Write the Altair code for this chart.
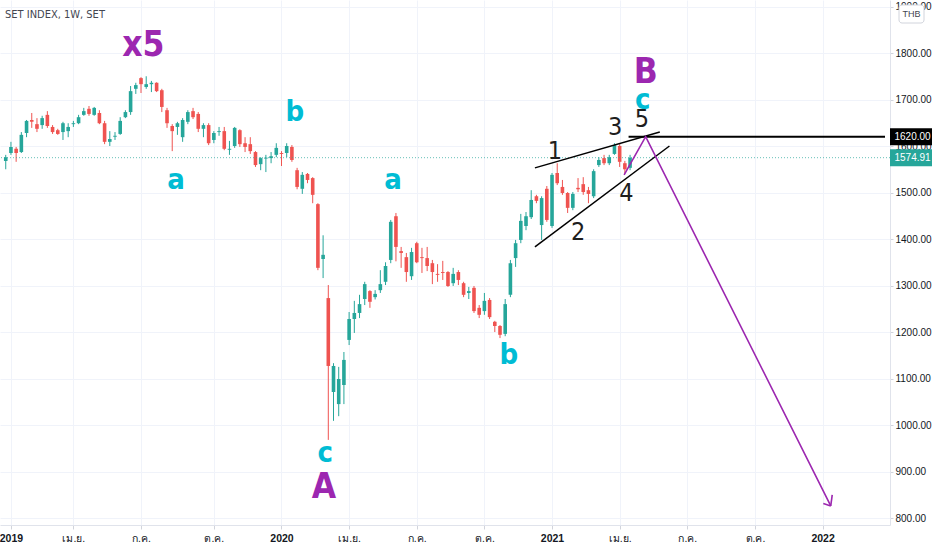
import altair as alt
import pandas as pd

# ---------------- data ----------------
first_week = "2018-12-31"
opens = [1568,1585,1594,1587,1628,1656,1647,1645,1667,1641,1634,1630,1632,1647,1649,1667,1680,1667,1671,1649,
         1609,1620,1626,1662,1673,1723,1746,1727,1733,1736,1720,1677,1643,1641,1619,1652,1675,1669,1637,1645,
         1613,1630,1632,1592,1600,1634,1606,1604,1587,1561,1573,1574,1581,1585,1585,1598,1548,1508,1540,1531,
         1475,1357,1273,1071,1045,1086,1183,1228,1241,1271,1288,1275,1290,1308,1355,1449,1374,1361,1320,1391,
         1361,1359,1348,1325,1329,1329,1305,1329,1305,1284,1295,1252,1245,1269,1222,1213,1196,1280,1359,1398,
         1428,1447,1492,1430,1508,1428,1542,1512,1499,1467,1510,1518,1505,1492,1559,1574,1563,1583,1600,1563,
         1553]
highs = [1581,1609,1598,1630,1656,1671,1660,1665,1675,1645,1637,1652,1649,1654,1667,1682,1686,1684,1677,1654,
         1632,1630,1662,1677,1729,1736,1748,1750,1740,1737,1723,1682,1647,1652,1660,1677,1682,1673,1649,1649,
         1632,1641,1641,1611,1641,1636,1619,1619,1589,1576,1581,1587,1606,1589,1606,1602,1553,1544,1542,1533,
         1477,1408,1301,1133,1125,1157,1243,1267,1280,1308,1290,1290,1333,1350,1441,1456,1383,1370,1381,1394,
         1381,1383,1355,1346,1353,1331,1338,1333,1308,1297,1299,1258,1284,1273,1224,1215,1271,1355,1398,1454,
         1458,1505,1495,1492,1514,1542,1563,1527,1501,1501,1531,1533,1512,1550,1576,1581,1581,1606,1604,1568,
         1581]
lows = [1550,1581,1566,1585,1619,1639,1630,1637,1639,1626,1624,1613,1619,1641,1647,1665,1665,1665,1647,1604,
        1600,1613,1624,1660,1667,1712,1714,1723,1716,1716,1673,1639,1589,1624,1609,1647,1658,1630,1619,1602,
        1606,1622,1591,1581,1596,1598,1587,1583,1555,1548,1544,1563,1576,1557,1576,1566,1507,1497,1520,1477,
        1333,1316,968,1009,1019,1045,1172,1198,1230,1258,1252,1270,1284,1301,1348,1352,1338,1308,1312,1348,
        1327,1331,1303,1308,1312,1297,1299,1301,1275,1271,1241,1230,1237,1228,1200,1187,1191,1275,1340,1391,
        1419,1443,1477,1398,1437,1424,1516,1495,1456,1462,1501,1495,1477,1488,1555,1559,1559,1581,1555,1542,
        1548]
closes = [1576,1598,1585,1624,1654,1652,1637,1660,1643,1630,1626,1649,1641,1649,1662,1675,1669,1682,1649,1609,
          1615,1622,1654,1673,1718,1731,1733,1733,1736,1718,1684,1649,1632,1649,1656,1673,1662,1637,1645,1606,
          1628,1632,1594,1594,1639,1604,1598,1589,1559,1574,1575,1578,1596,1583,1600,1570,1512,1538,1527,1495,
          1338,1366,1127,1127,1099,1140,1228,1241,1260,1303,1265,1282,1303,1342,1437,1383,1370,1329,1372,1350,
          1359,1342,1329,1323,1327,1299,1325,1312,1280,1288,1245,1237,1267,1232,1213,1194,1260,1348,1391,1439,
          1449,1484,1482,1488,1441,1538,1520,1499,1467,1497,1507,1501,1497,1546,1570,1563,1576,1602,1566,1550,
          1574.91]

x_tick_dates = ["2019-01-07", "2019-04-01", "2019-07-01", "2019-10-07", "2020-01-06", "2020-04-06", "2020-07-06",
                "2020-10-05", "2021-01-04", "2021-04-05", "2021-07-05", "2021-10-04", "2022-01-03"]
x_tick_labels = ["2019", "เม.ย.", "ก.ค.", "ต.ค.", "2020", "เม.ย.", "ก.ค.", "ต.ค.", "2021", "เม.ย.", "ก.ค.", "ต.ค.", "2022"]
y_ticks = [800, 900, 1000, 1100, 1200, 1300, 1400, 1500, 1600, 1700, 1800, 1900]
x_domain = ["2018-12-30", "2022-03-28"]
y_domain = [785, 1914]

# drawn trendlines (Elliott wedge, level line, projection arrow)
line_ids = ["w1", "w1", "w2", "w2", "lvl", "lvl"]
line_dates = ["2020-12-12", "2021-05-29", "2020-12-12", "2021-06-11", "2021-04-17", "2022-03-28"]
line_prices = [1553, 1630, 1383, 1600, 1620, 1620]
line_widths = [1.5, 1.5, 1.5, 1.5, 2, 2]

arrow_ids = ["main", "main", "main", "head1", "head1", "head2", "head2"]
arrow_dates = ["2021-04-11", "2021-05-10", "2022-01-14", "2022-01-04", "2022-01-14", "2022-01-16", "2022-01-14"]
arrow_prices = [1538, 1620, 826, 831, 826, 850, 826]

# Elliott wave labels
wave_text = ["x5", "A", "B", "a", "b", "c", "a", "b", "c", "1", "2", "3", "4", "5"]
wave_dates = ["2019-07-04", "2020-03-03", "2021-05-10", "2019-08-17", "2020-01-24", "2020-03-05", "2020-06-04",
              "2020-11-07", "2021-05-06", "2021-01-08", "2021-02-08", "2021-03-30", "2021-04-14", "2021-05-05"]
wave_prices = [1817, 867, 1759, 1527, 1673, 940, 1527, 1150, 1699, 1589, 1415, 1641, 1499, 1658]
wave_degree = ["major", "major", "major", "minor", "minor", "minor", "minor", "minor", "minor",
               "sub", "sub", "sub", "sub", "sub"]

level_price = 1620.00
last_price = closes[-1]

title_text = "SET INDEX, 1W, SET"
currency_text = "THB"

# ---------------- styling ----------------
UP, DOWN = "#26a69a", "#ef5350"
PURPLE, TEAL, INK = "#9c27b0", "#00bcd4", "#131722"
FONT = "Liberation Sans Narrow, DejaVu Sans Condensed, Roboto, sans-serif"
AXIS_FONT = "Liberation Sans, Arial, sans-serif"

candles = pd.DataFrame({
    "date": pd.date_range(first_week, periods=len(opens), freq="7D").strftime("%Y-%m-%d"),
    "open": opens, "high": highs, "low": lows, "close": closes,
})
candles["dir"] = ["up" if c >= o else "down" for o, c in zip(opens, closes)]

tick_ms = [int(pd.Timestamp(d, tz="UTC").value // 10**6) for d in x_tick_dates]
label_expr = ("[" + ",".join("'%s'" % s for s in x_tick_labels) + "][indexof(["
              + ",".join("'%s'" % d for d in x_tick_dates) + "], utcFormat(datum.value, '%Y-%m-%d'))]")

xdom = [alt.DateTime(year=int(d[:4]), month=int(d[5:7]), date=int(d[8:]), utc=True) for d in x_domain]
xscale = alt.Scale(type="utc", domain=xdom)
yscale = alt.Scale(domain=y_domain, nice=False, zero=False)

x_axis = alt.Axis(values=tick_ms, labelExpr=label_expr, title=None, grid=True, labelFlush=False,
                  labelOverlap=False, tickSize=4, labelPadding=4, labelFontSize=10.5, labelFont=AXIS_FONT,
                  labelColor=INK,
                  labelFontWeight={"condition": {"test": "utcFormat(datum.value, '%m') == '01'", "value": "bold"},
                                   "value": "normal"})
y_axis = alt.Axis(orient="right", values=y_ticks, format=".2f", title=None, grid=True, tickSize=3,
                  labelPadding=2, labelFontSize=10, labelFont=AXIS_FONT, labelColor=INK, labelFlush=False,
                  labelOverlap=False, labelBound=False)

color = alt.Color("dir:N", scale=alt.Scale(domain=["up", "down"], range=[UP, DOWN]), legend=None)

base = alt.Chart(candles)
wicks = base.mark_rule(strokeWidth=1, clip=True).encode(
    x=alt.X("date:T", scale=xscale, axis=x_axis),
    y=alt.Y("low:Q", scale=yscale, axis=y_axis),
    y2="high:Q",
    color=color,
)
bodies = base.mark_bar(size=3.6, clip=True).encode(
    x="date:T", y="open:Q", y2="close:Q", color=color,
)

last_line = alt.Chart(pd.DataFrame({"p": [last_price]})).mark_rule(
    color=UP, strokeDash=[1, 2], strokeWidth=1, opacity=0.7).encode(y="p:Q")

lines_df = pd.DataFrame({"id": line_ids, "date": line_dates, "price": line_prices, "w": line_widths})
lines = alt.Chart(lines_df).mark_line(color="#000000", clip=True).encode(
    x="date:T", y="price:Q", detail="id:N",
    strokeWidth=alt.StrokeWidth("w:Q", scale=None, legend=None),
)

arrow_df = pd.DataFrame({"id": arrow_ids, "date": arrow_dates, "price": arrow_prices,
                         "ord": list(range(len(arrow_ids)))})
arrow = alt.Chart(arrow_df).mark_line(color=PURPLE, strokeWidth=1.6, clip=True).encode(
    x="date:T", y="price:Q", detail="id:N", order="ord:Q",
)

waves = pd.DataFrame({"t": wave_text, "date": wave_dates, "price": wave_prices, "deg": wave_degree})
wave_major = alt.Chart(waves).transform_filter("datum.deg == 'major'").mark_text(
    font=FONT, fontSize=35, fontWeight="bold", color=PURPLE, baseline="middle").encode(
    x="date:T", y="price:Q", text="t:N")
wave_minor = alt.Chart(waves).transform_filter("datum.deg == 'minor'").mark_text(
    font=FONT, fontSize=29, fontWeight="bold", color=TEAL, baseline="middle").encode(
    x="date:T", y="price:Q", text="t:N")
wave_sub = alt.Chart(waves).transform_filter("datum.deg == 'sub'").mark_text(
    font=FONT, fontSize=25, color="#1e1e1e", baseline="middle").encode(
    x="date:T", y="price:Q", text="t:N")


def price_box(value, fill):
    d = pd.DataFrame({"p": [value], "label": ["%.2f" % value]})
    bg = alt.Chart(d).mark_rule(strokeWidth=17, strokeCap="butt", color=fill).encode(
        x=alt.value(890), x2=alt.value(932), y="p:Q")
    tx = alt.Chart(d).mark_text(align="left", baseline="middle", font=AXIS_FONT, fontSize=10,
                                color="#ffffff").encode(x=alt.value(894.5), y="p:Q", text="label:N")
    return bg + tx


level_box = price_box(level_price, "#000000")
last_box = price_box(last_price, UP)

ui = pd.DataFrame({"t": [title_text]})
title = alt.Chart(ui).mark_text(align="left", baseline="middle", font=FONT, fontSize=11, color="#434651").encode(
    x=alt.value(5), y=alt.value(15), text="t:N")
thb_box = alt.Chart(ui).mark_rect(fill="#ffffff", stroke="#d1d4dc", strokeWidth=1, cornerRadius=3).encode(
    x=alt.value(899), x2=alt.value(924), y=alt.value(5), y2=alt.value(23))
thb_txt = alt.Chart(pd.DataFrame({"t": [currency_text]})).mark_text(
    align="center", baseline="middle", font=AXIS_FONT, fontSize=9, color="#434651").encode(
    x=alt.value(911.5), y=alt.value(14), text="t:N")

chart = alt.layer(
    wicks, bodies, last_line, lines, arrow, wave_major, wave_minor, wave_sub,
    level_box, last_box, title, thb_box, thb_txt,
).properties(
    width=890, height=525,
    autosize=alt.AutoSizeParams(type="none"),
    padding={"left": 0, "top": 0, "right": 42, "bottom": 25},
    background="#ffffff",
).configure_view(stroke=None).configure_axis(
    gridColor="#f0f3fa", gridWidth=1, domainColor="#e0e3eb", tickColor="#d1d4dc",
)

chart.save("out.html", embed_options={"renderer": "svg", "actions": False})
